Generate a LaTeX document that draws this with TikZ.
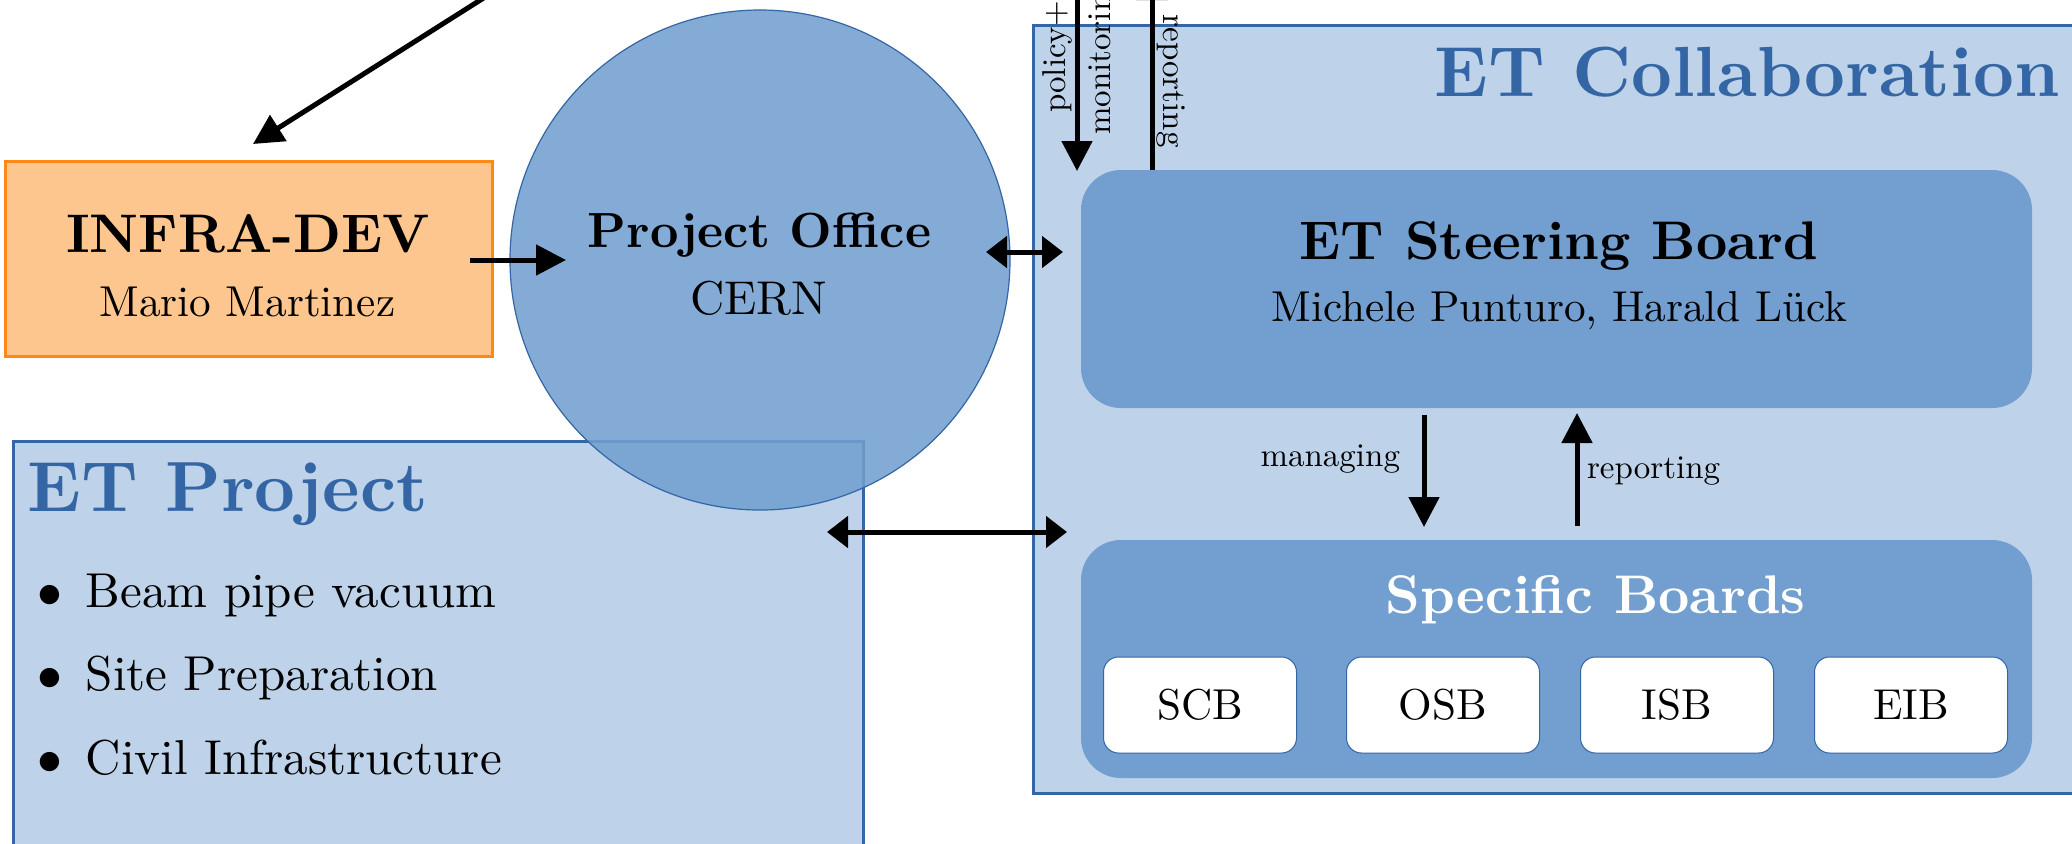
\documentclass[tikz,border=0pt]{standalone}
\usepackage{fontspec}
\setmainfont{lmroman10-regular.otf}[BoldFont=lmroman10-bold.otf]
\usetikzlibrary{arrows.meta}
\definecolor{dblue}{RGB}{52,101,164}
\definecolor{mblue}{RGB}{114,159,207}
\definecolor{lblue}{RGB}{190,211,233}
\definecolor{ofill}{RGB}{254,198,143}
\definecolor{oline}{RGB}{255,137,20}
\newcommand{\myfs}[1]{\fontsize{#1}{#1}\selectfont}
\begin{document}
\begin{tikzpicture}[x=0.5pt,y=-0.5pt,
  lbl/.style={inner sep=0pt, outer sep=0pt},
  arr/.style={line width=2.5pt, -{Triangle[length=15pt,width=15pt]}},
  darr/.style={line width=2.5pt, {Triangle[length=10.5pt,width=15.5pt]}-{Triangle[length=10.5pt,width=15.5pt]}},
  bigbox/.style={draw=dblue, fill=lblue, line width=1.5pt, inner sep=0pt},
  board/.style={fill=mblue, rounded corners=20pt, minimum width=475.5pt, minimum height=119pt, inner sep=0pt},
  sbox/.style={draw=dblue, fill=white, rounded corners=7.5pt, line width=0.5pt, minimum width=96.5pt, minimum height=48pt, inner sep=0pt, font=\myfs{21.6}},
  ]
\path[use as bounding box, clip] (0,0) rectangle (2072,843);

% big containers
\node[bigbox, minimum width=425pt, minimum height=229.5pt] (proj) at (438,670.5) {};
\node[bigbox, minimum width=543.5pt, minimum height=384pt] (coll) at (1576.5,409) {};

% INFRA-DEV
\node[draw=oline, fill=ofill, line width=1.5pt, minimum width=243.5pt, minimum height=97.5pt, inner sep=0pt] (infra) at (248.5,258.5) {};

% Project office circle
\node[circle, minimum size=250pt, inner sep=0pt, fill=mblue, fill opacity=0.87, draw=dblue, line width=0.6pt] (po) at (760,260) {};

% boards
\node[board] (steer) at (1556.5,289) {};
\node[board] (spec) at (1556.5,659) {};
\node[sbox] (scb) at (1200,705) {SCB};
\node[sbox] (osb) at (1443,705) {OSB};
\node[sbox] (isb) at (1677,705) {ISB};
\node[sbox] (eib) at (1911,705) {EIB};

% texts
\node[lbl, anchor=base] (tInfra) at (248,252) {\myfs{27.2}\bfseries INFRA-DEV};
\node[lbl, anchor=base] (tMario) at (247.5,316) {\myfs{21.6}Mario Martinez};
\node[lbl, anchor=base] (tPO) at (759.5,247) {\myfs{24.7}\bfseries Project Office};
\node[lbl, anchor=base] (tCERN) at (758.5,314) {\myfs{23.7}CERN};
\node[lbl, anchor=base, text=dblue] (tColl) at (1747,96) {\myfs{35.5}\bfseries ET Collaboration};
\node[lbl, anchor=base, text=dblue] (tProj) at (228,511) {\myfs{35.5}\bfseries ET Project};
\node[lbl, anchor=base] (tSteer) at (1559,259) {\myfs{27.2}\bfseries ET Steering Board};
\node[lbl, anchor=base] (tNames) at (1559.5,321) {\myfs{21.6}Michele Punturo, Harald Lück};
\node[lbl, anchor=base, text=white] (tSpec) at (1595.5,613) {\myfs{27.2}\bfseries Specific Boards};

\node[lbl, anchor=base west] (b1) at (38,607) {\myfs{24.5}\makebox[24pt][l]{$\bullet$}Beam pipe vacuum};
\node[lbl, anchor=base west] (b2) at (38,690) {\myfs{24.5}\makebox[24pt][l]{$\bullet$}Site Preparation};
\node[lbl, anchor=base west] (b3) at (38,774) {\myfs{24.5}\makebox[24pt][l]{$\bullet$}Civil Infrastructure};

\node[lbl, anchor=base east] (tMan) at (1400,466) {\myfs{16.5}managing};
\node[lbl, anchor=base west] (tRepM) at (1587,478) {\myfs{16.5}reporting};
\node[lbl, anchor=base, rotate=90] (tPol) at (1065,57) {\myfs{16.5}policy+};
\node[lbl, anchor=base, rotate=90] (tMon) at (1110,56) {\myfs{16.5}monitoring};
\node[lbl, anchor=base, rotate=-90] (tRepT) at (1163,81) {\myfs{16.5}reporting};

% connector end points
\coordinate (a0s) at (512,-20);
\coordinate (a0e) at (253,144);
\coordinate (a1s) at (470,260);
\coordinate (a1e) at (566,260);
\coordinate (a2s) at (986,252);
\coordinate (a2e) at (1063,252);
\coordinate (a3s) at (827,532);
\coordinate (a3e) at (1067,532);
\coordinate (a4s) at (1077,-20);
\coordinate (a4e) at (1077,171);
\coordinate (a5s) at (1152,170);
\coordinate (a5e) at (1152,-30);
\coordinate (a6s) at (1424,415);
\coordinate (a6e) at (1424,527);
\coordinate (a7s) at (1577,526);
\coordinate (a7e) at (1577,413);

\draw[arr] (a0s) -- (a0e);
\draw[arr] (a1s) -- (a1e);
\draw[darr] (a2s) -- (a2e);
\draw[darr] (a3s) -- (a3e);
\draw[arr] (a4s) -- (a4e);
\draw[arr] (a5s) -- (a5e);
\draw[arr] (a6s) -- (a6e);
\draw[arr] (a7s) -- (a7e);
\end{tikzpicture}
\end{document}
